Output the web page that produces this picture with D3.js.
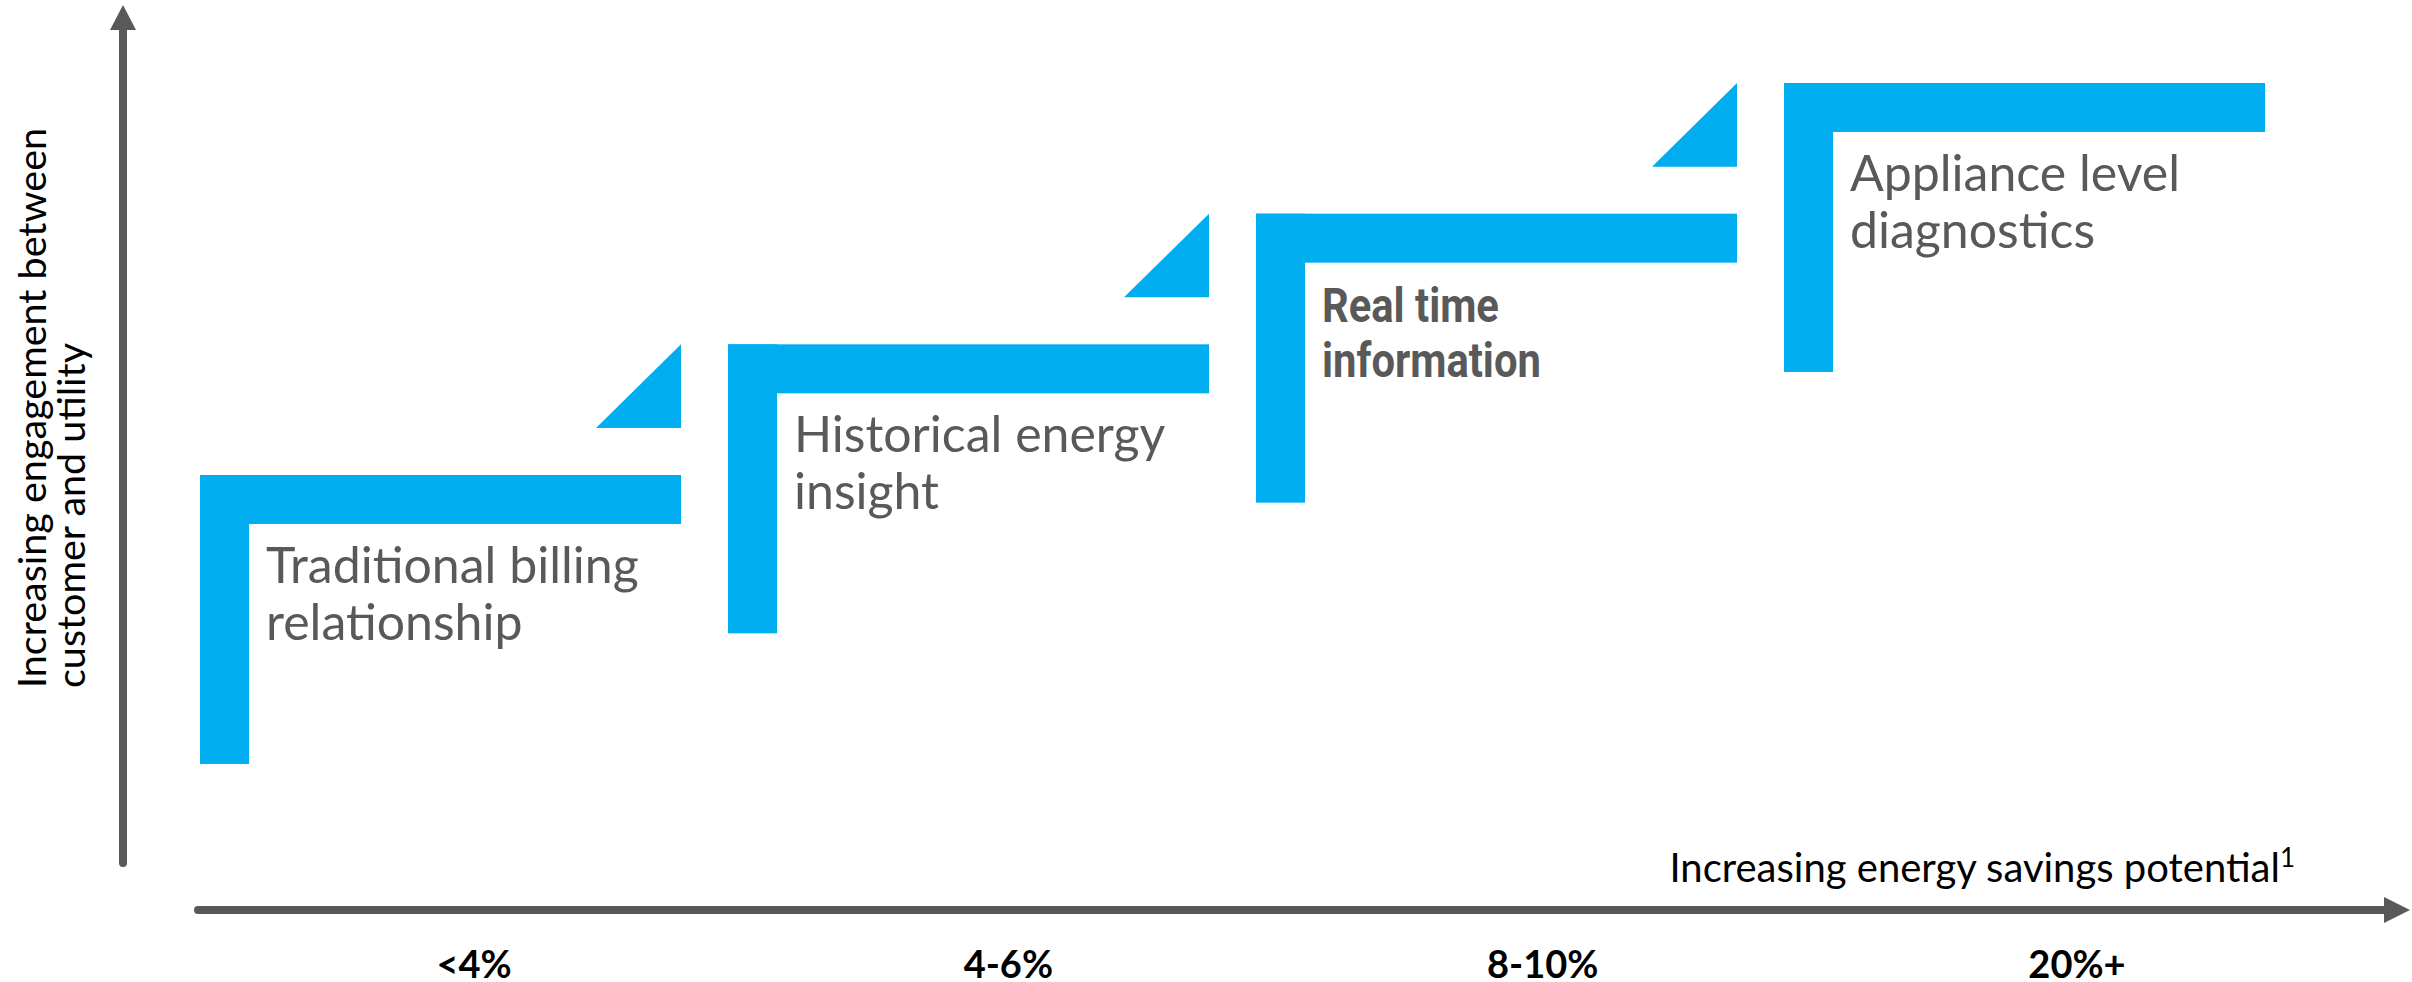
<!DOCTYPE html>
<html>
<head>
<meta charset="utf-8">
<script src="https://cdn.jsdelivr.net/npm/d3@7"></script>
<style>
  html, body { margin: 0; padding: 0; background: #fff; overflow: hidden; }
  svg { display: block; }
</style>
</head>
<body>
<div id="chart"></div>
<script>
// stages of the customer relationship, lowest engagement first
const stageLines = [
    ["Traditional billing", "relationship"],
    ["Historical energy", "insight"],
    ["Real time", "information"],
    ["Appliance level", "diagnostics"]
];
const engagementLevel = [1, 2, 3, 4];
const savingsLabels = ["<4%", "4-6%", "8-10%", "20%+"];
const yAxisTitle = ["Increasing engagement between", "customer and utility"];
const xAxisTitle = "Increasing energy savings potential";

const width = 2412, height = 982;
const blue = "#00aeef", grey = "#595959";
const bar = 49;          // thickness of the step bars
const armLength = 481;   // horizontal arm of each step
const legLength = 289;   // vertical leg of each step

const svg = d3.select("#chart").append("svg")
    .attr("width", width)
    .attr("height", height);

// scales: stage index -> x, engagement level -> y
const x_scale = d3.scaleLinear().domain([0, 4]).range([200, 2312]);
const y_scale = d3.scaleLinear().domain([1, 4]).range([475, 83]);
const label_scale = d3.scalePoint().domain(savingsLabels).range([474, 2077]);

const steps = stageLines.map((lines, i) => ({ i, lines, level: engagementLevel[i] }));

// step shapes (upside-down L)
const stepG = svg.selectAll("g.step")
    .data(steps)
    .enter().append("g")
    .attr("class", "step");

stepG.append("rect")
    .attr("x", d => x_scale(d.i))
    .attr("y", d => y_scale(d.level))
    .attr("width", armLength)
    .attr("height", bar)
    .attr("fill", blue);

stepG.append("rect")
    .attr("x", d => x_scale(d.i))
    .attr("y", d => y_scale(d.level))
    .attr("width", bar)
    .attr("height", legLength)
    .attr("fill", blue);

// small triangles leading up to the next step
stepG.filter(d => d.i < steps.length - 1)
    .append("path")
    .attr("fill", blue)
    .attr("d", d => {
        const right = x_scale(d.i) + armLength;
        const bottom = y_scale(d.level) - 47;
        const top = y_scale(d.level + 1);
        return `M${right - 85},${bottom}L${right},${bottom}L${right},${top}Z`;
    });

// step labels; the third one is set in a narrow bold face
stepG.each(function (d) {
    const condensed = d.i === 2;
    const tx = x_scale(d.i) + 66;
    const t = d3.select(this).append("text")
        .attr("fill", grey)
        .attr("transform", condensed ? `translate(${tx},0) scale(0.87,1)` : `translate(${tx},0)`)
        .style("font-family", condensed ? "Roboto, 'Liberation Sans', sans-serif" : "Lato, 'Open Sans', sans-serif")
        .style("font-weight", condensed ? "bold" : "normal")
        .style("font-size", condensed ? "48px" : "50px");
    d.lines.forEach((line, k) => {
        t.append("tspan")
            .attr("x", 0)
            .attr("y", y_scale(d.level) + 108 + k * (condensed ? 55 : 57))
            .text(line);
    });
});

// axes
const axisG = svg.append("g");

axisG.append("line")
    .attr("x1", 123).attr("x2", 123)
    .attr("y1", 863).attr("y2", 25)
    .attr("stroke", grey)
    .attr("stroke-width", 8)
    .attr("stroke-linecap", "round");

axisG.append("path")
    .attr("d", "M110,30L123,5L136,30Z")
    .attr("fill", grey);

axisG.append("line")
    .attr("x1", 198).attr("x2", 2390)
    .attr("y1", 910).attr("y2", 910)
    .attr("stroke", grey)
    .attr("stroke-width", 8)
    .attr("stroke-linecap", "round");

axisG.append("path")
    .attr("d", "M2384,897L2410,910L2384,923Z")
    .attr("fill", grey);

// x tick labels
svg.selectAll("text.tick")
    .data(savingsLabels)
    .enter().append("text")
    .attr("class", "tick")
    .attr("x", d => label_scale(d))
    .attr("y", 978)
    .attr("text-anchor", "middle")
    .style("font-family", "Lato, 'Open Sans', sans-serif")
    .style("font-weight", "bold")
    .style("font-size", "38px")
    .attr("fill", "#000")
    .text(d => d);

// x axis title
const xt = svg.append("text")
    .attr("x", 2295)
    .attr("y", 882)
    .attr("text-anchor", "end")
    .style("font-family", "Lato, 'Open Sans', sans-serif")
    .style("font-size", "40px")
    .attr("fill", "#000");
xt.append("tspan").text(xAxisTitle);
xt.append("tspan")
    .attr("dy", -15)
    .style("font-size", "26px")
    .text("1");

// y axis title
const yt = svg.append("text")
    .attr("transform", "translate(0,688) rotate(-90)")
    .style("font-family", "Lato, 'Open Sans', sans-serif")
    .style("font-size", "39.5px")
    .attr("fill", "#000");
yAxisTitle.forEach((line, k) => {
    yt.append("tspan")
        .attr("x", 0)
        .attr("y", 46 + k * 39)
        .text(line);
});
</script>
</body>
</html>
